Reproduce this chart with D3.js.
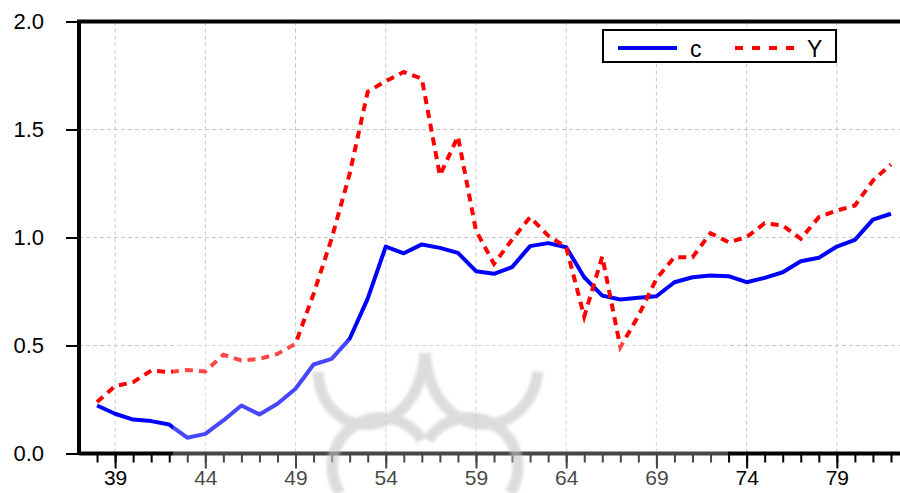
<!DOCTYPE html>
<html>
<head>
<meta charset="utf-8">
<script src="https://cdn.jsdelivr.net/npm/d3@7"></script>
<style>
  body { margin: 0; background: #fff; }
  svg { display: block; font-family: "Liberation Sans", Arial, sans-serif; }
</style>
</head>
<body>
<svg id="svgRoot" width="900" height="493"></svg>
<script>

// years on the x axis
const years = d3.range(38, 83)

// c series (solid blue)
const cValues = [0.222, 0.184, 0.157, 0.150, 0.134, 0.073, 0.091, 0.153, 0.222, 0.181,
  0.230, 0.300, 0.412, 0.438, 0.531, 0.717, 0.958, 0.927, 0.968, 0.952,
  0.929, 0.844, 0.832, 0.863, 0.960, 0.974, 0.955, 0.816, 0.731, 0.713,
  0.721, 0.728, 0.793, 0.816, 0.824, 0.821, 0.793, 0.813, 0.839, 0.890,
  0.906, 0.958, 0.989, 1.083, 1.110]

// Y series (red dashed)
const yValues = [0.238, 0.312, 0.330, 0.384, 0.377, 0.387, 0.380, 0.457, 0.431, 0.438,
  0.461, 0.508, 0.739, 0.995, 1.295, 1.675, 1.724, 1.766, 1.735, 1.287,
  1.468, 1.032, 0.878, 0.990, 1.094, 1.009, 0.955, 0.634, 0.912, 0.492,
  0.637, 0.809, 0.909, 0.909, 1.020, 0.978, 1.002, 1.066, 1.056, 0.994,
  1.094, 1.125, 1.148, 1.264, 1.338]

const xTicks = [39, 44, 49, 54, 59, 64, 69, 74, 79]
const yTicks = [0, 0.5, 1.0, 1.5, 2.0]
const seriesNames = ["c", "Y"]

function draw_vis() {
  let svg = d3.select("#svgRoot")

  const margin = { top: 21.5, left: 79, bottom: 39.5, right: 0 }
  let width = 900
  let height = 493

  let scale_x = d3.scaleLinear()
    .domain([37, 82.5])
    .range([margin.left, width - margin.right])

  let scale_y = d3.scaleLinear()
    .domain([0, 2])
    .range([height - margin.bottom, margin.top])

  // grid
  let g_grid = svg.append("g").attr("class", "g_grid")
  g_grid.selectAll(".vgrid").data(xTicks).enter().append("line")
    .attr("x1", d => scale_x(d)).attr("x2", d => scale_x(d))
    .attr("y1", scale_y(2)).attr("y2", scale_y(0))
    .attr("stroke", "#c8c8c8").attr("stroke-width", 1).attr("stroke-dasharray", "4,3")
  g_grid.selectAll(".hgrid").data(yTicks.filter(d => d > 0 && d < 2)).enter().append("line")
    .attr("x1", scale_x(37)).attr("x2", width)
    .attr("y1", d => scale_y(d)).attr("y2", d => scale_y(d))
    .attr("stroke", "#c8c8c8").attr("stroke-width", 1).attr("stroke-dasharray", "4,3")

  // lines
  let line = d3.line().x((d, i) => scale_x(years[i])).y(d => scale_y(d))

  svg.append("path").datum(cValues)
    .attr("d", line).attr("fill", "none")
    .attr("stroke", "#0000ff").attr("stroke-width", 4).attr("stroke-linejoin", "round")

  svg.append("path").datum(yValues)
    .attr("d", line).attr("fill", "none")
    .attr("stroke", "#ff0000").attr("stroke-width", 4).attr("stroke-dasharray", "8,6")

  // axes
  let g_xAxis = svg.append("g").attr("class", "g_xAxis")
    .attr("transform", "translate(0," + scale_y(0) + ")")
  g_xAxis.call(d3.axisBottom(scale_x).tickValues(years).tickSize(9).tickFormat(""))
  g_xAxis.selectAll(".tick line").attr("stroke-width", 2)
  g_xAxis.select(".domain").attr("stroke-width", 4)
    .attr("d", "M" + scale_x(37) + ",0H" + width)
  let g_xMajor = svg.append("g")
    .attr("transform", "translate(0," + scale_y(0) + ")")
    .call(d3.axisBottom(scale_x).tickValues(xTicks).tickSize(15).tickPadding(2).tickFormat(d3.format("d")))
  g_xMajor.select(".domain").remove()
  g_xMajor.selectAll(".tick line").attr("stroke-width", 2)
  g_xMajor.selectAll(".tick text").attr("font-size", 21).attr("fill", "#000")
    .attr("font-family", "Liberation Sans, Arial, sans-serif")

  let g_yAxis = svg.append("g").attr("class", "g_yAxis")
    .attr("transform", "translate(" + margin.left + ",0)")
    .call(d3.axisLeft(scale_y).tickValues(yTicks).tickSize(13).tickPadding(22).tickFormat(d3.format(".1f")))
  g_yAxis.select(".domain").attr("stroke-width", 4).attr("d", "M0," + scale_y(2) + "V" + scale_y(0))
  g_yAxis.selectAll(".tick line").attr("stroke-width", 2)
  g_yAxis.selectAll(".tick text").attr("font-size", 22).attr("fill", "#000")
    .attr("font-family", "Liberation Sans, Arial, sans-serif")

  // top frame
  svg.append("line")
    .attr("x1", margin.left - 2).attr("x2", width)
    .attr("y1", scale_y(2)).attr("y2", scale_y(2))
    .attr("stroke", "#000").attr("stroke-width", 4)

  // watermark (rough)
  let defs = svg.append("defs")
  defs.append("filter").attr("id", "soft")
    .append("feGaussianBlur").attr("stdDeviation", 1.5)
  let wm = svg.append("g").attr("fill", "none").attr("stroke", "#b0b0b0")
    .attr("stroke-width", 11).attr("opacity", 0.6).attr("filter", "url(#soft)")
  wm.append("path").attr("d", "M318,372 C322,445 418,445 425,353")
  wm.append("path").attr("d", "M425,353 C432,445 528,445 538,372")
  wm.append("path").attr("d", "M340,493 A42,42 0 0 1 422,440")
  wm.append("path").attr("d", "M510,493 A42,42 0 0 0 428,440")
  svg.append("rect").attr("x", 173).attr("y", 340).attr("width", 555).attr("height", 153)
    .attr("fill", "#ffffff").attr("opacity", 0.28)

  // legend
  let lg = svg.append("g").attr("class", "legend")
  lg.append("rect").attr("x", 603).attr("y", 30).attr("width", 233).attr("height", 32)
    .attr("fill", "#fff").attr("stroke", "#000").attr("stroke-width", 2)
  lg.append("line").attr("x1", 618).attr("x2", 677).attr("y1", 48).attr("y2", 48)
    .attr("stroke", "#0000ff").attr("stroke-width", 4)
  lg.append("line").attr("x1", 735).attr("x2", 797).attr("y1", 48).attr("y2", 48)
    .attr("stroke", "#ff0000").attr("stroke-width", 4).attr("stroke-dasharray", "8,9")
  lg.append("text").attr("x", 690).attr("y", 57).attr("font-size", 23).text(seriesNames[0])
  lg.append("text").attr("x", 807).attr("y", 57).attr("font-size", 23).text(seriesNames[1])
}

draw_vis()
</script>
</body>
</html>
